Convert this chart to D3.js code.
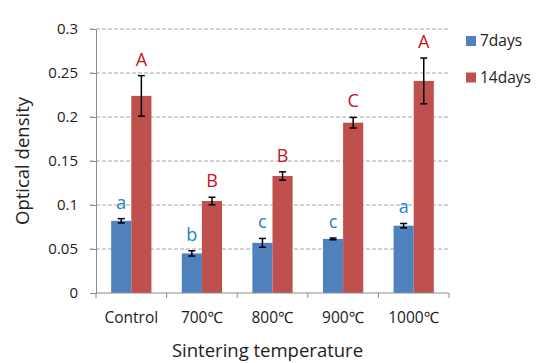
<!DOCTYPE html>
<html>
<head>
<meta charset="utf-8">
<script src="https://cdn.jsdelivr.net/npm/d3@7"></script>
<style>
  body { margin: 0; background: #fff; }
  text { font-family: "Open Sans", "Noto Sans", sans-serif; }
</style>
</head>
<body>
<svg id="chart" width="550" height="363"></svg>
<script>
"use strict";

var categories = ["Control", "700℃", "800℃", "900℃", "1000℃"],
    seriesNames = ["7days", "14days"],
    days7 = [0.082, 0.045, 0.057, 0.0615, 0.0765],
    days14 = [0.224, 0.1045, 0.133, 0.1935, 0.241],
    err7 = [0.0025, 0.003, 0.005, 0.001, 0.0025],
    err14 = [0.023, 0.0043, 0.0047, 0.006, 0.026],
    letters7 = ["a", "b", "c", "c", "a"],
    letters14 = ["A", "B", "B", "C", "A"],
    yTicks = [0, 0.05, 0.1, 0.15, 0.2, 0.25, 0.3];

var margin = {top: 29, right: 101, bottom: 70, left: 96},
    width = 550 - margin.left - margin.right,
    height = 363 - margin.top - margin.bottom,
    colors = ["#4f81bd", "#c0504d"],
    letterColors = ["#2b7fcc", "#c4161c"],
    axisColor = "#8c8c8c";

var svg = d3.select("#chart"),
    g = svg.append("g").attr("transform", "translate(" + margin.left + "," + margin.top + ")");

var x = d3.scaleBand().domain(categories).range([0, width]).paddingInner(0.43).paddingOuter(0.215),
    xSub = d3.scaleBand().domain(seriesNames).range([0, x.bandwidth()]),
    y = d3.scaleLinear().domain([0, 0.3]).range([height, 0]);

// gridlines
g.selectAll("line.grid")
    .data(yTicks.slice(1))
    .enter().append("line")
    .attr("class", "grid")
    .attr("x1", -6).attr("x2", width)
    .attr("y1", function(d){ return y(d); })
    .attr("y2", function(d){ return y(d); })
    .attr("stroke", "#a6a6a6")
    .attr("stroke-width", 1)
    .attr("stroke-dasharray", "4,2");

// y axis
var yAxis = g.append("g")
    .call(d3.axisLeft(y).tickValues(yTicks).tickSize(6).tickPadding(12)
        .tickFormat(function(d){ return d === 0 ? "0" : String(+d.toFixed(2)); }));
yAxis.select(".domain").attr("stroke", axisColor);
yAxis.selectAll(".tick line").attr("stroke", axisColor);
yAxis.selectAll(".tick text").attr("font-size", 15).attr("fill", "#222");

var rows = categories.map(function(c, i){
    return {cat: c, vals: [
        {s: seriesNames[0], v: days7[i], e: err7[i], l: letters7[i], k: 0},
        {s: seriesNames[1], v: days14[i], e: err14[i], l: letters14[i], k: 1}
    ]};
});

var groups = g.selectAll("g.cat")
    .data(rows)
    .enter().append("g")
    .attr("class", "cat")
    .attr("transform", function(d){ return "translate(" + x(d.cat) + ",0)"; });

var bars = groups.selectAll("g.bar")
    .data(function(d){ return d.vals; })
    .enter().append("g")
    .attr("class", "bar");

bars.append("rect")
    .attr("x", function(d){ return xSub(d.s); })
    .attr("width", xSub.bandwidth())
    .attr("y", function(d){ return y(d.v); })
    .attr("height", function(d){ return height - y(d.v); })
    .attr("fill", function(d){ return colors[d.k]; });

// error bars
var cx = function(d){ return xSub(d.s) + xSub.bandwidth() / 2; };
bars.append("line")
    .attr("x1", cx).attr("x2", cx)
    .attr("y1", function(d){ return y(d.v + d.e); })
    .attr("y2", function(d){ return y(d.v - d.e); })
    .attr("stroke", "#000").attr("stroke-width", 1.5);
[1, -1].forEach(function(sign){
    bars.append("line")
        .attr("x1", function(d){ return cx(d) - 3.5; })
        .attr("x2", function(d){ return cx(d) + 3.5; })
        .attr("y1", function(d){ return y(d.v + sign * d.e); })
        .attr("y2", function(d){ return y(d.v + sign * d.e); })
        .attr("stroke", "#000").attr("stroke-width", 1.5);
});

// significance letters
bars.append("text")
    .attr("x", cx)
    .attr("y", function(d){ return y(d.v + d.e) - 10; })
    .attr("text-anchor", "middle")
    .attr("font-size", 18)
    .attr("fill", function(d){ return letterColors[d.k]; })
    .text(function(d){ return d.l; });

// x axis
var xg = g.append("g").attr("transform", "translate(0," + height + ")");
xg.append("line").attr("x1", 0).attr("x2", width).attr("stroke", axisColor);
var step = x.step();
xg.selectAll("line.tick")
    .data(d3.range(categories.length + 1))
    .enter().append("line")
    .attr("class", "tick")
    .attr("x1", function(i){ return i * step; })
    .attr("x2", function(i){ return i * step; })
    .attr("y1", 0).attr("y2", 5)
    .attr("stroke", axisColor);
xg.selectAll("text")
    .data(categories)
    .enter().append("text")
    .attr("x", function(d){ return x(d) + x.bandwidth() / 2; })
    .attr("y", 30)
    .attr("text-anchor", "middle")
    .attr("font-size", 15.5)
    .attr("fill", "#222")
    .text(function(d){ return d; });

// axis titles
g.append("text")
    .attr("x", width / 2 - 5)
    .attr("y", height + 64)
    .attr("text-anchor", "middle")
    .attr("font-size", 18.5)
    .attr("fill", "#222")
    .text("Sintering temperature");
g.append("text")
    .attr("transform", "translate(" + (-67) + "," + (height / 2) + ") rotate(-90)")
    .attr("text-anchor", "middle")
    .attr("font-size", 18.5)
    .attr("fill", "#222")
    .text("Optical density");

// legend
var legend = svg.append("g").attr("transform", "translate(466,36)");
var li = legend.selectAll("g")
    .data(seriesNames)
    .enter().append("g")
    .attr("transform", function(d, i){ return "translate(0," + (i * 36.5) + ")"; });
li.append("rect").attr("width", 10).attr("height", 10)
    .attr("fill", function(d, i){ return colors[i]; });
li.append("text").attr("x", 14).attr("y", 10)
    .attr("font-size", 15.5).attr("fill", "#222")
    .text(function(d){ return d; });
</script>
</body>
</html>
